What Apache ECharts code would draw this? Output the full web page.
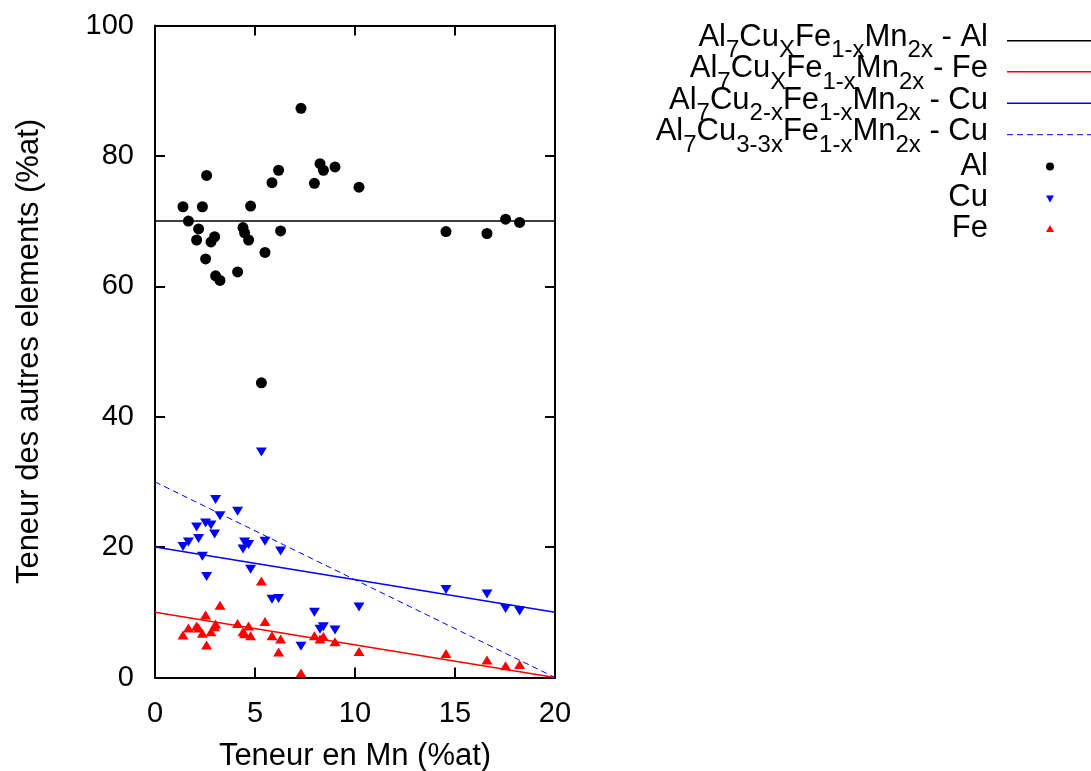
<!DOCTYPE html>
<html>
<head>
<meta charset="utf-8">
<script src="https://cdn.jsdelivr.net/npm/echarts@6/dist/echarts.min.js"></script>
<style>
html,body{margin:0;padding:0;background:#fff;}
#chart{width:1091px;height:771px;}
</style>
</head>
<body>
<div id="chart"></div>
<script>
// ---- data ----
const mn = [1.4,1.67,2.08,2.18,2.37,2.53,2.58,2.8,2.98,3.03,3.25,4.13,4.4,4.48,4.68,4.78,5.32,5.5,5.85,6.18,6.28,7.3,7.97,8.25,8.42,9.0,10.2,14.55,16.6,17.53,18.23];
const al = [72.2,70.0,67.1,68.8,72.2,64.2,77.0,66.8,67.6,61.6,60.9,62.2,69.0,68.2,67.1,72.3,45.2,65.2,75.9,77.8,68.5,87.3,75.8,78.8,77.8,78.3,75.2,68.4,68.1,70.3,69.8];
const cu = [20.1,20.8,23.1,21.3,18.6,23.7,15.5,23.4,22.0,27.3,24.8,25.5,19.7,20.8,20.4,16.6,34.6,20.9,12.0,12.1,19.4,4.8,10.0,7.4,7.8,7.3,10.8,13.5,12.8,10.6,10.2];
const fe = [6.5,7.6,7.9,7.6,6.8,9.6,5.0,7.0,7.8,8.2,11.1,8.3,7.0,6.7,7.9,6.4,14.8,8.6,6.4,3.9,5.9,0.7,6.4,5.9,6.3,5.5,4.0,3.7,2.7,1.8,2.0];

// model lines (endpoints)
const modelX = [0, 20];
const alModel = [70, 70];
const feModel = [10, 0];
const cuModel2 = [20, 10];
const cuModel3 = [30, 0];

const xTitle = 'Teneur en Mn (%at)';
const yTitle = 'Teneur des autres elements (%at)';

// legend labels (rich text markup: m = normal, s = subscript)
const legendLabels = [
  '{m|Al}{s|7}{m|Cu}{s|X}{m|Fe}{s|1-x}{m|Mn}{s|2x}{m| - Al}',
  '{m|Al}{s|7}{m|Cu}{s|X}{m|Fe}{s|1-x}{m|Mn}{s|2x}{m| - Fe}',
  '{m|Al}{s|7}{m|Cu}{s|2-x}{m|Fe}{s|1-x}{m|Mn}{s|2x}{m| - Cu}',
  '{m|Al}{s|7}{m|Cu}{s|3-3x}{m|Fe}{s|1-x}{m|Mn}{s|2x}{m| - Cu}',
  '{m|Al}', '{m|Cu}', '{m|Fe}'
];

const FONT = 'Liberation Sans, Arial, Helvetica, sans-serif';
const zip = (xs, ys) => xs.map((x, i) => [x, ys[i]]);

const chart = echarts.init(document.getElementById('chart'), null, {renderer: 'canvas'});

const axisCommon = {
  type: 'value',
  axisLine: {show: true, onZero: false, lineStyle: {color: '#000', width: 2}},
  axisTick: {show: true, inside: true, length: 10, lineStyle: {color: '#000', width: 2}},
  splitLine: {show: false}
};

// legend graphic
const rowText = [37, 68.5, 100, 131.5, 166, 197.5, 228];
const rowKey = [40.7, 71.8, 103.2, 134.7, 166.5, 198.5, 228.5];
const rich = {
  m: {fontSize: 31, lineHeight: 31, fontFamily: FONT, color: '#000', verticalAlign: 'top'},
  s: {fontSize: 24, lineHeight: 24, fontFamily: FONT, color: '#000', verticalAlign: 'top', padding: [17, 0, 0, 0]}
};
const graphics = [];
legendLabels.forEach((lab, i) => {
  graphics.push({
    type: 'text', x: 988, y: rowText[i] - 15.5,
    style: {text: lab, rich: rich, align: 'right', textAlign: 'right', verticalAlign: 'top', textVerticalAlign: 'top', fill: '#000', font: '31px ' + FONT}
  });
});
const keyLines = [
  {c: '#000', w: 1.5, t: 'solid'},
  {c: '#ff0000', w: 1.5, t: 'solid'},
  {c: '#0000ff', w: 1.5, t: 'solid'},
  {c: '#0000ff', w: 1, t: [6, 4]}
];
keyLines.forEach((k, i) => {
  graphics.push({
    type: 'line', shape: {x1: 1007, y1: rowKey[i], x2: 1095, y2: rowKey[i]},
    style: {stroke: k.c, lineWidth: k.w, lineDash: k.t === 'solid' ? null : k.t}
  });
});
graphics.push({type: 'circle', shape: {cx: 1050, cy: rowKey[4], r: 4}, style: {fill: '#000'}});
graphics.push({type: 'polygon', shape: {points: [[1046, rowKey[5] - 3], [1054, rowKey[5] - 3], [1050, rowKey[5] + 4]]}, style: {fill: '#0000ff'}});
graphics.push({type: 'polygon', shape: {points: [[1046, rowKey[6] + 3.5], [1054, rowKey[6] + 3.5], [1050, rowKey[6] - 3.5]]}, style: {fill: '#ff0000'}});

const option = {
  backgroundColor: '#fff',
  animation: false,
  textStyle: {fontFamily: FONT},
  grid: {left: 155, right: 536, top: 25.5, bottom: 93.5, containLabel: false, outerBoundsMode: 'none'},
  xAxis: [
    Object.assign({}, axisCommon, {
      position: 'bottom', min: 0, max: 20, interval: 5,
      axisLabel: {fontSize: 29, margin: 22, color: '#000', fontFamily: FONT},
      name: xTitle, nameLocation: 'middle', nameGap: 63,
      nameTextStyle: {fontSize: 31, color: '#000', fontFamily: FONT}
    }),
    Object.assign({}, axisCommon, {
      position: 'top', min: 0, max: 20, interval: 5,
      axisLabel: {show: false}
    })
  ],
  yAxis: [
    Object.assign({}, axisCommon, {
      position: 'left', min: 0, max: 100, interval: 20,
      axisLabel: {fontSize: 29, margin: 21, color: '#000', fontFamily: FONT},
      name: yTitle, nameLocation: 'middle', nameGap: 110, nameRotate: 90,
      nameTextStyle: {fontSize: 31, color: '#000', fontFamily: FONT}
    }),
    Object.assign({}, axisCommon, {
      position: 'right', min: 0, max: 100, interval: 20,
      axisLabel: {show: false}
    })
  ],
  graphic: graphics,
  series: [
    {name: 'Al7CuXFe1-xMn2x - Al', type: 'line', data: zip(modelX, alModel), symbol: 'none', lineStyle: {color: '#000', width: 1.5}, z: 2},
    {name: 'Al7CuXFe1-xMn2x - Fe', type: 'line', data: zip(modelX, feModel), symbol: 'none', lineStyle: {color: '#ff0000', width: 1.5}, z: 2},
    {name: 'Al7Cu2-xFe1-xMn2x - Cu', type: 'line', data: zip(modelX, cuModel2), symbol: 'none', lineStyle: {color: '#0000ff', width: 1.5}, z: 2},
    {name: 'Al7Cu3-3xFe1-xMn2x - Cu', type: 'line', data: zip(modelX, cuModel3), symbol: 'none', lineStyle: {color: '#0000ff', width: 1, type: [6, 4]}, z: 2},
    {name: 'Al', type: 'scatter', data: zip(mn, al), symbol: 'circle', symbolSize: 11, itemStyle: {color: '#000', opacity: 1}, z: 3},
    {name: 'Cu', type: 'scatter', data: zip(mn, cu), symbol: 'triangle', symbolRotate: 180, symbolSize: [11, 9], itemStyle: {color: '#0000ff', opacity: 1}, z: 3},
    {name: 'Fe', type: 'scatter', data: zip(mn, fe), symbol: 'triangle', symbolSize: [11, 9], itemStyle: {color: '#ff0000', opacity: 1}, z: 3}
  ]
};
chart.setOption(option);
</script>
</body>
</html>
